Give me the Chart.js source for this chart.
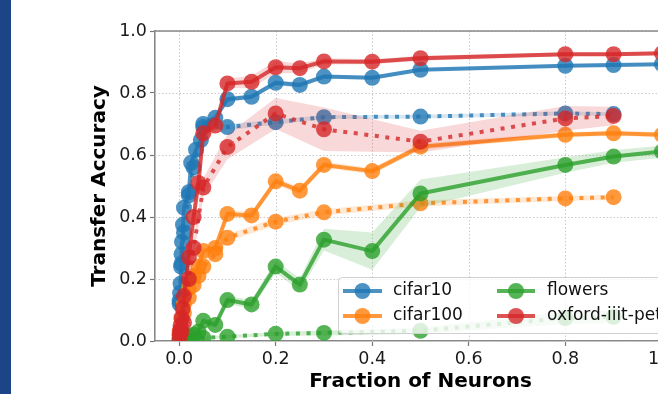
<!DOCTYPE html>
<html>
<head>
<meta charset="utf-8">
<script src="https://cdn.jsdelivr.net/npm/chart.js@4/dist/chart.umd.min.js"></script>
<style>
  html, body { margin: 0; padding: 0; background: #fff; overflow: hidden; }
  #wrap { position: relative; width: 658px; height: 394px; overflow: hidden; }
  #bar { position: absolute; left: 0; top: 0; width: 11px; height: 394px; background: #1c4587; }
  canvas { position: absolute; left: 0; top: 0; }
</style>
</head>
<body>
<div id="wrap">
  <canvas id="myChart" width="700" height="394"></canvas>
  <div id="bar"></div>
</div>
<script>
// tick labels
const xTicks = [0, 0.2, 0.4, 0.6, 0.8, 1.0];
const yTicks = [0, 0.2, 0.4, 0.6, 0.8, 1.0];
const seriesNames = ['cifar10', 'cifar100', 'flowers', 'oxford-iiit-pet'];

// cifar10
const cifar10SolidX = [0.001,0.002,0.003,0.004,0.005,0.006,0.008,0.01,0.02,0.025,0.035,0.045,0.05,0.075,0.1,0.15,0.2,0.25,0.3,0.4,0.5,0.8,0.9,1.0];
const cifar10Solid = [0.13,0.155,0.185,0.24,0.28,0.32,0.375,0.43,0.48,0.575,0.617,0.648,0.70,0.72,0.78,0.788,0.833,0.826,0.853,0.849,0.875,0.888,0.890,0.893];
const cifar10SolidStd = [0.01,0.01,0.01,0.01,0.01,0.01,0.01,0.01,0.01,0.01,0.01,0.01,0.01,0.01,0.008,0.008,0.008,0.008,0.006,0.006,0.005,0.005,0.005,0.005];
const cifar10DotX = [0.001,0.005,0.01,0.02,0.03,0.05,0.1,0.2,0.3,0.5,0.8,0.9];
const cifar10Dot = [0.12,0.25,0.35,0.47,0.56,0.69,0.69,0.706,0.722,0.724,0.734,0.732];
const cifar10DotStd = [0.01,0.01,0.01,0.01,0.01,0.01,0.01,0.008,0.006,0.006,0.006,0.006];

// cifar100
const cifar100SolidX = [0.001,0.005,0.01,0.02,0.03,0.04,0.05,0.075,0.1,0.15,0.2,0.25,0.3,0.4,0.5,0.8,0.9,1.0];
const cifar100Solid = [0.03,0.07,0.12,0.17,0.21,0.24,0.29,0.30,0.41,0.405,0.515,0.485,0.568,0.548,0.627,0.665,0.67,0.665];
const cifar100SolidStd = [0.005,0.005,0.008,0.01,0.01,0.01,0.01,0.01,0.012,0.012,0.012,0.012,0.01,0.01,0.01,0.008,0.008,0.008];
const cifar100DotX = [0.001,0.01,0.02,0.03,0.04,0.05,0.075,0.1,0.2,0.3,0.5,0.8,0.9];
const cifar100Dot = [0.02,0.09,0.14,0.18,0.21,0.24,0.28,0.333,0.385,0.415,0.444,0.46,0.464];
const cifar100DotStd = [0.005,0.008,0.01,0.01,0.01,0.01,0.012,0.012,0.012,0.01,0.01,0.008,0.008];

// flowers
const flowersSolidX = [0.001,0.01,0.02,0.03,0.04,0.05,0.075,0.1,0.15,0.2,0.25,0.3,0.4,0.5,0.8,0.9,1.0];
const flowersSolid = [0.005,0.01,0.015,0.02,0.03,0.065,0.052,0.132,0.118,0.24,0.182,0.327,0.29,0.476,0.568,0.595,0.611];
const flowersSolidStd = [0.003,0.004,0.005,0.006,0.008,0.01,0.01,0.012,0.015,0.02,0.02,0.035,0.06,0.045,0.025,0.02,0.02];
const flowersDotX = [0.001,0.01,0.05,0.1,0.2,0.3,0.5,0.8,0.9];
const flowersDot = [0.002,0.005,0.01,0.014,0.023,0.026,0.033,0.074,0.078];
const flowersDotStd = [0.002,0.003,0.004,0.005,0.006,0.008,0.01,0.02,0.02];

// oxford-iiit-pet
const petSolidX = [0.001,0.002,0.003,0.005,0.0075,0.01,0.02,0.03,0.04,0.05,0.075,0.1,0.15,0.2,0.25,0.3,0.4,0.5,0.8,0.9,1.0];
const petSolid = [0.02,0.035,0.05,0.075,0.105,0.145,0.27,0.40,0.51,0.67,0.695,0.831,0.836,0.883,0.88,0.902,0.901,0.912,0.925,0.925,0.928];
const petSolidStd = [0.01,0.01,0.01,0.01,0.01,0.015,0.02,0.02,0.02,0.02,0.02,0.015,0.02,0.02,0.015,0.01,0.008,0.008,0.006,0.006,0.006];
const petDotX = [0.001,0.005,0.01,0.02,0.03,0.05,0.1,0.2,0.3,0.5,0.8,0.9];
const petDot = [0.01,0.03,0.06,0.2,0.3,0.495,0.626,0.734,0.683,0.643,0.718,0.726];
const petDotStd = [0.005,0.01,0.015,0.02,0.025,0.03,0.04,0.05,0.07,0.035,0.04,0.03];

const colors = [[31,119,180], [255,127,14], [44,160,44], [214,39,40]];
const FONT = 'DejaVu Sans';

function rgba(c, a) { return 'rgba(' + c[0] + ',' + c[1] + ',' + c[2] + ',' + a + ')'; }

const datasets = [];
let z = 0;
function addSeries(color, xs, ys, sd, dotted) {
  const order = 1000 - (z++);
  datasets.push({
    data: xs.map((x, i) => ({x: x, y: ys[i] + sd[i]})),
    borderWidth: 0, pointRadius: 0, fill: false, clip: 0, order: order
  });
  datasets.push({
    data: xs.map((x, i) => ({x: x, y: ys[i] - sd[i]})),
    borderWidth: 0, pointRadius: 0, fill: '-1', clip: 0, order: order,
    backgroundColor: rgba(color, 0.18)
  });
  datasets.push({
    data: xs.map((x, i) => ({x: x, y: ys[i]})),
    borderColor: rgba(color, 0.8),
    borderWidth: 4,
    borderDash: dotted ? [4, 6.6] : [],
    borderCapStyle: 'butt',
    borderJoinStyle: 'round',
    pointRadius: 8,
    pointBorderWidth: 0,
    pointBackgroundColor: rgba(color, 0.8),
    fill: false, clip: 0, order: order - 0.5
  });
}

addSeries(colors[0], cifar10SolidX, cifar10Solid, cifar10SolidStd, false);
addSeries(colors[0], cifar10DotX, cifar10Dot, cifar10DotStd, true);
addSeries(colors[1], cifar100SolidX, cifar100Solid, cifar100SolidStd, false);
addSeries(colors[1], cifar100DotX, cifar100Dot, cifar100DotStd, true);
addSeries(colors[2], flowersSolidX, flowersSolid, flowersSolidStd, false);
addSeries(colors[2], flowersDotX, flowersDot, flowersDotStd, true);
addSeries(colors[3], petSolidX, petSolid, petSolidStd, false);
addSeries(colors[3], petDotX, petDot, petDotStd, true);

// dotted grid behind the data, top spine on top
const gridPlugin = {
  id: 'gridPlugin',
  beforeDatasetsDraw(chart) {
    const {ctx, chartArea: a, scales: {x, y}} = chart;
    ctx.save();
    ctx.strokeStyle = '#c9c9c9';
    ctx.lineWidth = 1;
    ctx.setLineDash([1.5, 2]);
    xTicks.forEach(v => {
      const px = Math.round(x.getPixelForValue(v)) + 0.5;
      ctx.beginPath(); ctx.moveTo(px, a.top); ctx.lineTo(px, a.bottom); ctx.stroke();
    });
    yTicks.forEach(v => {
      const py = Math.round(y.getPixelForValue(v)) + 0.5;
      ctx.beginPath(); ctx.moveTo(a.left, py); ctx.lineTo(a.right, py); ctx.stroke();
    });
    ctx.restore();
  },
  afterDatasetsDraw(chart) {
    const {ctx, chartArea: a} = chart;
    ctx.save();
    ctx.strokeStyle = '#888';
    ctx.lineWidth = 1.6;
    ctx.beginPath(); ctx.moveTo(a.left, a.top); ctx.lineTo(a.right, a.top); ctx.stroke();
    ctx.restore();
  }
};

// legend drawn inside the axes, lower right
const legendPlugin = {
  id: 'legendPlugin',
  afterDraw(chart) {
    const ctx = chart.ctx;
    ctx.save();
    ctx.beginPath();
    ctx.roundRect(338.5, 277.5, 400, 56, 4);
    ctx.fillStyle = 'rgba(255,255,255,0.8)';
    ctx.fill();
    ctx.strokeStyle = '#d0d0d0';
    ctx.lineWidth = 1;
    ctx.stroke();
    const cols = [{x0: 343, x1: 382, tx: 393}, {x0: 497, x1: 535, tx: 547}];
    const rows = [291, 316];
    seriesNames.forEach((name, i) => {
      const col = cols[Math.floor(i / 2)];
      const ry = rows[i % 2];
      const c = colors[i];
      ctx.strokeStyle = rgba(c, 0.8);
      ctx.lineWidth = 4;
      ctx.beginPath(); ctx.moveTo(col.x0, ry); ctx.lineTo(col.x1, ry); ctx.stroke();
      ctx.fillStyle = rgba(c, 0.8);
      ctx.beginPath(); ctx.arc((col.x0 + col.x1) / 2, ry, 8, 0, Math.PI * 2); ctx.fill();
      ctx.fillStyle = '#111';
      ctx.font = '17px "' + FONT + '"';
      ctx.textBaseline = 'middle';
      ctx.textAlign = 'left';
      ctx.fillText(name, col.tx, ry);
    });
    ctx.restore();
  }
};

const ctx = document.getElementById('myChart').getContext('2d');
new Chart(ctx, {
  type: 'line',
  data: { datasets: datasets },
  plugins: [gridPlugin, legendPlugin],
  options: {
    responsive: false,
    animation: false,
    layout: { padding: { top: 31, right: 14, left: 0, bottom: 0 } },
    plugins: { legend: { display: false }, tooltip: { enabled: false } },
    elements: { line: { tension: 0 } },
    scales: {
      x: {
        type: 'linear', min: -0.05, max: 1.05,
        afterBuildTicks: s => { s.ticks = xTicks.map(v => ({value: v})); },
        afterFit: s => { s.height = 53; },
        grid: { drawOnChartArea: false, drawTicks: true, tickLength: 5, tickColor: '#777', tickWidth: 1.2 },
        border: { color: '#888', width: 1.6 },
        ticks: { font: { family: FONT, size: 17.5 }, color: '#1a1a1a', padding: 3, maxRotation: 0,
                 callback: v => v.toFixed(1) },
        title: { display: true, text: 'Fraction of Neurons', color: '#000',
                 font: { family: FONT, size: 20, weight: 'bold' }, padding: { top: 0, bottom: 0 } }
      },
      y: {
        type: 'linear', min: 0, max: 1,
        afterBuildTicks: s => { s.ticks = yTicks.map(v => ({value: v})); },
        afterFit: s => { s.width = 155; },
        grid: { drawOnChartArea: false, drawTicks: true, tickLength: 5, tickColor: '#777', tickWidth: 1.2 },
        border: { color: '#888', width: 1.6 },
        ticks: { font: { family: FONT, size: 17.5 }, color: '#1a1a1a', padding: 3,
                 callback: v => v.toFixed(1) },
        title: { display: true, text: 'Transfer Accuracy', color: '#000',
                 font: { family: FONT, size: 20, weight: 'bold' }, padding: { top: 88, bottom: 0 } }
      }
    }
  }
});
</script>
</body>
</html>
